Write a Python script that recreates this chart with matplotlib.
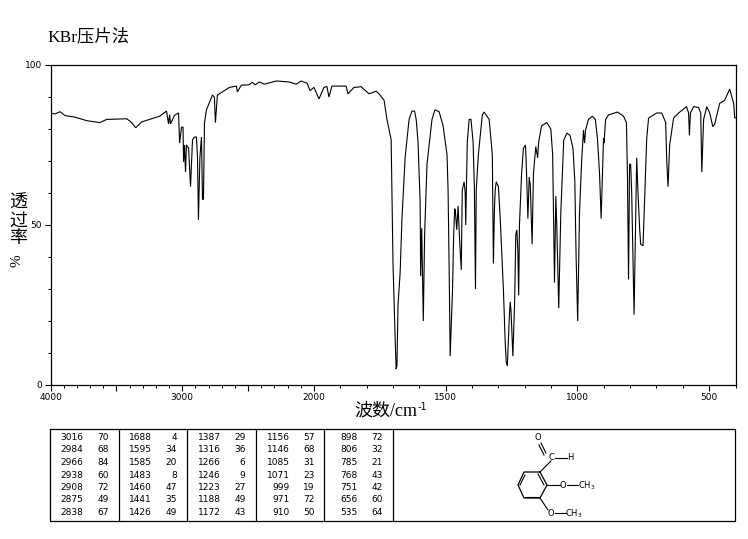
import numpy as np
import matplotlib
matplotlib.use("Agg")
import matplotlib.pyplot as plt
from matplotlib.ticker import NullFormatter

plt.rcParams['font.family'] = ['Liberation Serif', 'Noto Sans CJK SC', 'DejaVu Sans']

# ---------------- Data ----------------
wavenumber = [4000, 3966, 3928, 3890, 3815, 3724, 3626, 3573, 3421, 3384, 3353, 3308, 3247, 3172, 3119, 3104, 3096, 3089,
              3058, 3028, 3020, 3005, 2994, 2990, 2983, 2975, 2968, 2952, 2937, 2922, 2907, 2892, 2884, 2877, 2866, 2854,
              2846, 2839, 2831, 2816, 2771, 2756, 2748, 2733, 2642, 2589, 2581, 2551, 2491, 2468, 2445, 2415, 2377, 2286,
              2188, 2135, 2097, 2052, 2030, 2000, 1981, 1962, 1951, 1943, 1932, 1878, 1871, 1848, 1821, 1791, 1764, 1753,
              1734, 1723, 1707, 1704, 1700, 1692, 1688, 1685, 1681, 1673, 1666, 1654, 1639, 1628, 1618, 1612, 1605, 1597,
              1595, 1591, 1585, 1580, 1571, 1552, 1541, 1525, 1510, 1495, 1491, 1487, 1483, 1474, 1470, 1466, 1464, 1458,
              1453, 1447, 1441, 1437, 1430, 1426, 1424, 1418, 1411, 1404, 1396, 1391, 1387, 1384, 1376, 1361, 1354, 1335,
              1323, 1319, 1315, 1312, 1308, 1300, 1293, 1281, 1274, 1270, 1266, 1258, 1255, 1252, 1245, 1238, 1234, 1230,
              1226, 1223, 1220, 1212, 1205, 1197, 1193, 1188, 1183, 1179, 1172, 1167, 1158, 1151, 1147, 1136, 1116, 1101,
              1094, 1087, 1082, 1078, 1071, 1063, 1059, 1052, 1040, 1028, 1017, 1010, 1005, 999, 992, 984, 977, 973, 969,
              958, 943, 932, 924, 916, 910, 905, 901, 899, 893, 882, 848, 825, 814, 810, 806, 802, 798, 794, 785, 778, 775,
              771, 764, 760, 751, 745, 737, 730, 699, 680, 665, 661, 656, 650, 635, 616, 586, 578, 575, 571, 559, 540, 532,
              528, 521, 509, 498, 486, 479, 460, 441, 422, 407, 403, 400]
transmittance = [85, 84.7, 85.4, 84.2, 83.7, 82.6, 82, 83, 83.2, 82, 80.4, 82.2, 83, 84, 85.6, 81.6, 84.5, 81.6,
                 84.3, 85, 75.6, 80.6, 80.6, 69.7, 75, 66.6, 75, 74, 62, 76.6, 77.5, 77.5, 71, 51.6, 71, 77.5,
                 58, 58, 82, 86, 90.6, 90, 82, 90.6, 93, 93.4, 91.6, 93.7, 93.8, 94.6, 93.8, 94.7, 94, 95,
                 94.7, 94, 95, 94.3, 92, 93, 89.4, 93, 93.3, 90, 93.4, 93.4, 91, 93, 93.2, 91, 91.8, 91,
                 89, 83, 76.6, 59, 38, 15, 5, 6, 25, 35, 52, 71, 83, 85.6, 85.6, 83, 76, 57,
                 34, 49, 20, 47, 69, 83, 86, 85.4, 81, 72, 61, 37, 9, 30, 46, 55, 55, 48.5,
                 56, 45, 36, 61, 63.5, 60, 50, 76, 83, 83, 76, 61, 30, 61, 72, 84.4, 85.3, 83,
                 72, 38, 55, 61, 63.5, 62, 52, 30, 13, 7, 6, 22, 26, 23, 9, 27, 47, 48.5,
                 42, 28, 50, 66, 74, 75, 66, 52, 65, 62.5, 44, 66, 74.5, 71, 76, 81, 82, 80,
                 72, 32, 59, 49, 24, 54, 62, 76.5, 78.7, 78, 74, 64, 40, 20, 54, 70, 79.7, 75.6, 79.7,
                 83, 84, 83, 77, 66, 52, 66, 77, 75.6, 83, 84.4, 85.3, 84, 82, 65, 33, 69, 69, 60, 22, 56, 71,
                 62, 49, 44, 43.5, 58, 77, 83.4, 85, 85, 82, 70, 62, 75, 83.4, 85, 87, 85, 78, 85, 87, 86.7, 85,
                 66.5, 83, 87, 85, 80.7, 81.5, 88, 89, 92.5, 88, 83.5, 83.5]

x_major = [4000, 3000, 2000, 1500, 1000, 500]
x_long = [4000, 3500, 3000, 2500, 2000, 1500, 1000, 500]
x_minor = list(range(400, 4000, 100))
y_major = [0, 50, 100]
y_minor = list(range(0, 101, 10))

title_text = 'KBr压片法'
xlabel_text = '波数/cm'
xlabel_sup = '-1'
ylabel_chars = ['透', '过', '率']

peak_wn = [[3016, 2984, 2966, 2938, 2908, 2875, 2838],
           [1688, 1595, 1585, 1483, 1460, 1441, 1426],
           [1387, 1316, 1266, 1246, 1223, 1188, 1172],
           [1156, 1146, 1085, 1071, 999, 971, 910],
           [898, 806, 785, 768, 751, 656, 535]]
peak_t = [[70, 68, 84, 60, 72, 49, 67],
          [4, 34, 20, 8, 47, 35, 49],
          [29, 36, 6, 9, 27, 49, 43],
          [57, 68, 31, 23, 19, 72, 50],
          [72, 32, 21, 43, 42, 60, 64]]

W, H = 748, 539
fig = plt.figure(figsize=(W / 100, H / 100), dpi=100, facecolor='white')

# ---------------- Spectrum ----------------
# the scale doubles below 2000 cm-1, forward has to rise with w or the axis flips
def to_pos(w):
    w = np.asarray(w, dtype=float)
    return np.where(w >= 2000, (w - 2000) / 2, w - 2000)

def from_pos(p):
    p = np.asarray(p, dtype=float)
    return np.where(p >= 0, 2000 + p * 2, 2000 + p)

L, R, T, B = 50.5, 735.5, 65, 385
ax = fig.add_axes([L / W, 1 - B / H, (R - L) / W, (B - T) / H])
ax.set_xscale('function', functions=(to_pos, from_pos))
ax.plot(wavenumber, transmittance, color='black', lw=0.8, solid_joinstyle='miter')
ax.set_xlim(4000, 400)
ax.set_ylim(0, 100)
ax.set_xticks(x_long)
ax.set_xticklabels([str(v) if v in x_major else '' for v in x_long])
ax.set_xticks(x_minor, minor=True)
ax.set_yticks(y_major)
ax.set_yticks(y_minor, minor=True)
ax.xaxis.set_minor_formatter(NullFormatter())
ax.yaxis.set_minor_formatter(NullFormatter())
ax.tick_params(axis='both', which='major', length=4, width=0.8, labelsize=6.5, pad=2)
ax.tick_params(axis='both', which='minor', length=2, width=0.7)
for lab in ax.get_xticklabels() + ax.get_yticklabels():
    lab.set_fontfamily('DejaVu Sans')
for s in ax.spines.values():
    s.set_linewidth(0.9)

# ---------------- Overlay in pixel coords: text, table, structure ----------------
ov = fig.add_axes([0, 0, 1, 1])
ov.set_xlim(0, W)
ov.set_ylim(H, 0)
ov.axis('off')
ov.patch.set_alpha(0)

ov.text(47, 37, title_text, fontsize=12.5, ha='left', va='center')
ov.text(354, 411, xlabel_text, fontsize=13, ha='left', va='center')
ov.text(418, 407, xlabel_sup, fontsize=7, ha='left', va='center', family='DejaVu Sans')
for ch, yy in zip(ylabel_chars, [203, 222, 239]):
    ov.text(18, yy, ch, fontsize=13, ha='center', va='center')
ov.text(17, 261, '%', fontsize=11, rotation=90, ha='center', va='center')

# peak table
tb_l, tb_r, tb_t, tb_b = 50.5, 735.5, 428.5, 520.5
ov.plot([tb_l, tb_r, tb_r, tb_l, tb_l], [tb_t, tb_t, tb_b, tb_b, tb_t], color='black', lw=0.9)
col_left = [50.5, 119, 187.5, 256.5, 324.5, 393]
for xv in col_left[1:]:
    ov.plot([xv, xv], [tb_t, tb_b], color='black', lw=0.9)
for c in range(5):
    for r in range(7):
        yy = 437.5 + r * 12.5
        ov.text(col_left[c] + 33, yy, str(peak_wn[c][r]), fontsize=6.5, ha='right', va='center', family='DejaVu Sans')
        ov.text(col_left[c] + 58, yy, str(peak_t[c][r]), fontsize=6.5, ha='right', va='center', family='DejaVu Sans')

# structure
ring_x = [540, 547, 540, 524, 518, 524, 540]
ring_y = [472, 485, 498, 498, 485, 472, 472]
ov.plot(ring_x, ring_y, color='black', lw=0.9)
bonds = [([551, 540], [461, 472]), ([555, 567], [458, 458]), ([547, 560], [485, 485]),
         ([567, 578], [485, 485]), ([540, 548], [498, 510]), ([555, 566], [513, 513])]
for bx, by in bonds:
    ov.plot(bx, by, color='black', lw=0.8)
inner = [([541, 546], [443, 453]), ([539, 544], [445, 455]), ([538, 544], [474, 485]),
         ([525, 539], [497, 497]), ([520, 525], [485, 475])]
for bx, by in inner:
    ov.plot(bx, by, color='black', lw=0.8)
atom_labels = [(537.5, 438, 'O'), (551, 458, 'C'), (570, 458, 'H'), (563, 485, 'O'),
               (587, 486, 'CH$_3$'), (551, 513, 'O'), (574, 514, 'CH$_3$')]
for xx, yy, s in atom_labels:
    ov.text(xx, yy, s, fontsize=6, ha='center', va='center', family='DejaVu Sans')

fig.savefig('out.png', dpi=100)
